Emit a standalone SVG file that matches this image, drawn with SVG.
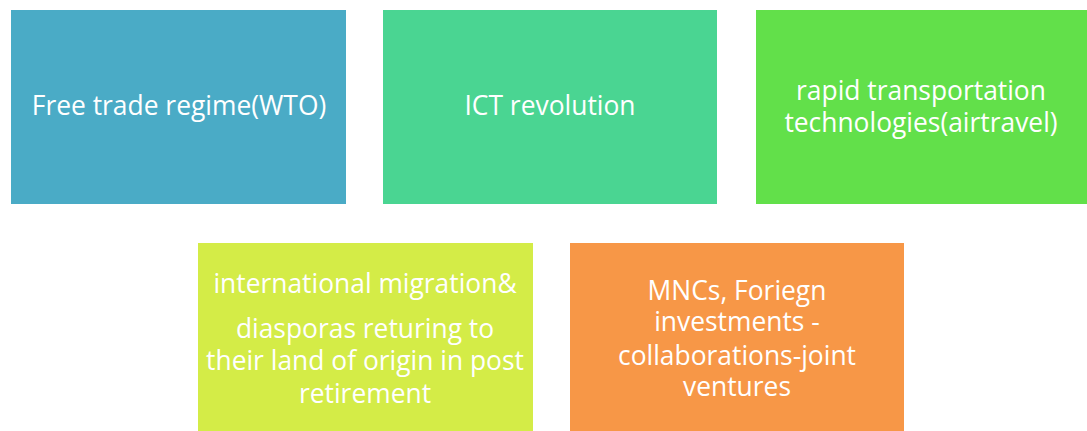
<svg xmlns="http://www.w3.org/2000/svg" width="1087" height="431" viewBox="0 0 1087 431">
<style>
.t{font-family:"Open Sans","Liberation Sans",sans-serif;font-size:26.4px;fill:#ffffff;text-anchor:middle}
</style>
<rect width="1087" height="431" fill="#ffffff"/>
<g id="connectors"></g>
<g id="n1"><rect x="11" y="10" width="335" height="194" fill="#4AABC6"/><text class="t" x="179" y="115">Free trade regime(WTO)</text></g>
<g id="n2"><rect x="383" y="10" width="334" height="194" fill="#4AD592"/><text class="t" x="550" y="115">ICT revolution</text></g>
<g id="n3"><rect x="756" y="10" width="335" height="194" fill="#62E04A"/><text class="t" x="921" y="100">rapid transportation</text><text class="t" x="921" y="132">technologies(airtravel)</text></g>
<g id="n4"><rect x="198" y="243" width="335" height="194" fill="#D4EC47"/><text class="t" x="365" y="293">international migration&amp;</text><text class="t" x="365" y="338">diasporas returing to</text><text class="t" x="365" y="370">their land of origin in post</text><text class="t" x="365" y="403">retirement</text></g>
<g id="n5"><rect x="570" y="243" width="334" height="194" fill="#F79747"/><text class="t" x="737" y="300">MNCs, Foriegn</text><text class="t" x="737" y="331">investments -</text><text class="t" x="737" y="365">collaborations-joint</text><text class="t" x="737" y="396">ventures</text></g>
</svg>
